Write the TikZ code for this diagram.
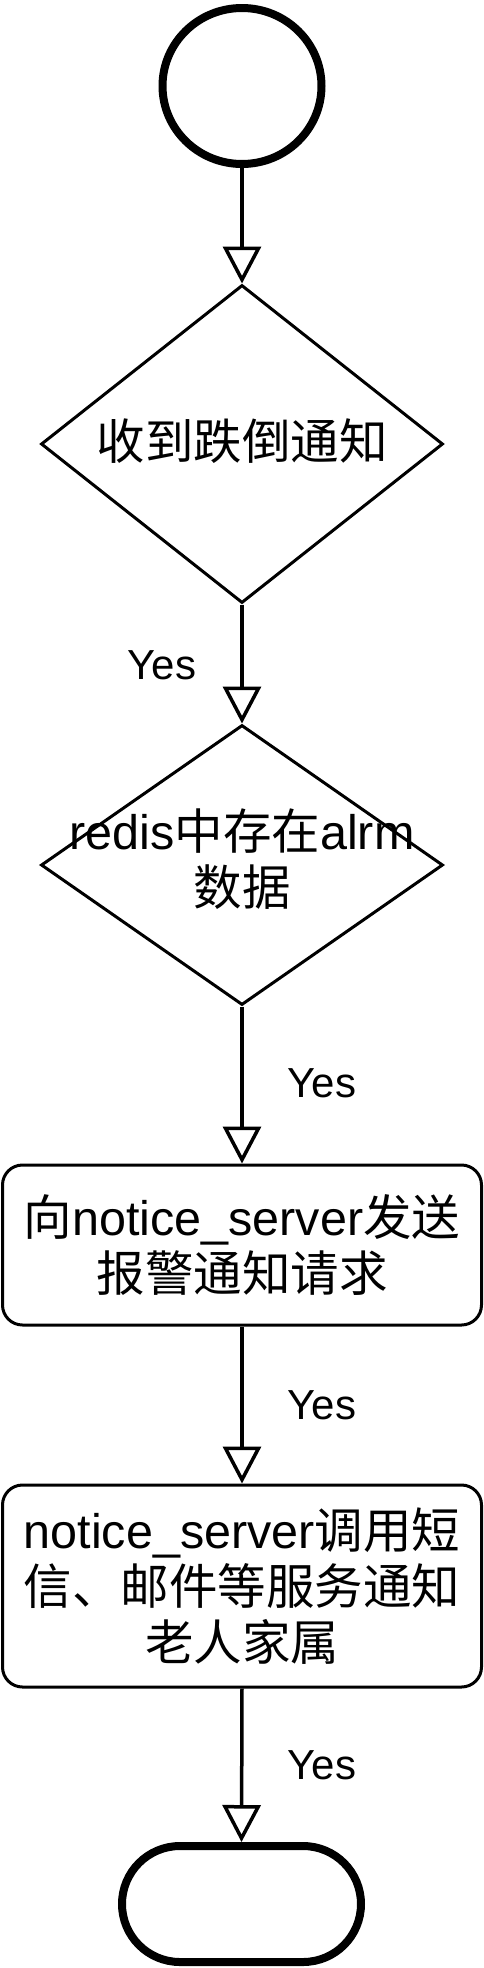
\documentclass[tikz,border=0pt]{standalone}
\usepackage{fontspec}
\setmainfont{Liberation Sans}
\newfontfamily\cjk{Noto Sans CJK SC}
\newcommand{\zh}[1]{{\cjk #1}}
\usetikzlibrary{shapes.geometric,arrows.meta}
\tikzset{
  term/.style={draw=black,line width=8pt,inner sep=0pt},
  dia/.style={draw=black,line width=3pt,shape=diamond,inner sep=0pt,minimum width=402pt,minimum height=#1},
  stepbox/.style={draw=black,line width=3pt,rounded corners=20pt,inner sep=0pt,minimum width=479pt,minimum height=#1,
    align=center,font=\fontsize{48.5}{56}\selectfont},
  txt/.style={align=center,inner sep=0pt,font=\fontsize{48.5}{56}\selectfont},
  yes/.style={inner sep=0pt,font=\fontsize{42}{48}\selectfont},
  conn/.style={draw=black,line width=3.5pt,-{Triangle[open,length=37pt,width=38pt]}}
}
\begin{document}
\begin{tikzpicture}[x=1pt,y=-1pt]
\useasboundingbox (0,0) rectangle (484,1968);
\node[term,shape=ellipse,minimum width=159pt,minimum height=156pt] (s) at (242,86) {};
\node[dia=318pt] (d1) at (242,444) {};
\node[txt] (d1t) at (242,441) {\zh{收到跌倒通知}};
\node[dia=280pt] (d2) at (242,865) {};
\node[txt] (d2t) at (242,859) {redis\zh{中存在}alrm\\\zh{数据}};
\node[stepbox=160pt] (b1) at (242,1245) {\zh{向}notice\_server\zh{发送}\\\zh{报警通知请求}};
\node[stepbox=202pt] (b2) at (242,1586) {notice\_server\zh{调用短}\\\zh{信、邮件等服务通知}\\\zh{老人家属}};
\node[term,rounded corners=58pt,minimum width=239pt,minimum height=116pt] (e) at (241.5,1904) {};
\draw[conn] (s.south) -- (d1.north);
\draw[conn] (d1.south) -- (d2.north);
\draw[conn] (d2.south) -- (b1.north);
\draw[conn] (b1.south) -- (b2.north);
\draw[conn] (b2.south) -- (e.north);
\node[yes] (y1) at (162,665) {Yes};
\node[yes] (y2) at (322,1083) {Yes};
\node[yes] (y3) at (322,1405) {Yes};
\node[yes] (y4) at (322,1765) {Yes};
\end{tikzpicture}
\end{document}
